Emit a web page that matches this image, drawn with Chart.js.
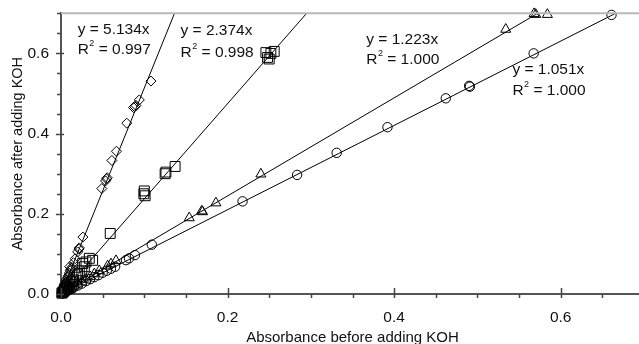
<!DOCTYPE html>
<html>
<head>
<meta charset="utf-8">
<script src="https://cdn.jsdelivr.net/npm/chart.js@4.4.1/dist/chart.umd.min.js"></script>
<style>
  html, body { margin: 0; padding: 0; background: #fff; overflow: hidden; }
  #wrap { width: 639px; height: 344px; overflow: hidden; }
</style>
</head>
<body>
<div id="wrap"><canvas id="absChart" width="652" height="344"></canvas></div>
<script>
const diamondPts = [
  [0.001, 0.004], [0.002, 0.008], [0.002, 0.012], [0.003, 0.015], [0.004, 0.02], [0.004, 0.024],
  [0.005, 0.026], [0.006, 0.03], [0.006, 0.034], [0.007, 0.036], [0.008, 0.042], [0.009, 0.046],
  [0.010, 0.052], [0.011, 0.058], [0.0104, 0.068], [0.012, 0.061], [0.013, 0.066], [0.015, 0.078],
  [0.017, 0.088], [0.020, 0.105], [0.0215, 0.112], [0.022, 0.115], [0.0263, 0.142],
  [0.049, 0.263], [0.0535, 0.282], [0.0547, 0.287], [0.0555, 0.290],
  [0.0611, 0.333], [0.0666, 0.356], [0.079, 0.426], [0.087, 0.465],
  [0.0885, 0.467], [0.090, 0.470], [0.094, 0.484], [0.108, 0.531]
];
const squarePts = [
  [0.001, 0.002], [0.002, 0.004], [0.003, 0.006], [0.004, 0.010], [0.005, 0.012], [0.007, 0.016],
  [0.008, 0.018], [0.010, 0.024], [0.012, 0.030], [0.014, 0.032], [0.015, 0.035], [0.018, 0.042],
  [0.020, 0.048], [0.022, 0.052], [0.025, 0.058],
  [0.026, 0.076], [0.028, 0.068], [0.030, 0.080], [0.034, 0.089], [0.038, 0.084],
  [0.0591, 0.151], [0.0995, 0.250], [0.100, 0.257], [0.101, 0.245],
  [0.125, 0.300], [0.126, 0.304], [0.137, 0.318],
  [0.246, 0.602], [0.248, 0.590], [0.250, 0.586], [0.252, 0.600], [0.256, 0.605]
];
const trianglePts = [
  [0.001, 0.001], [0.002, 0.003], [0.004, 0.005], [0.005, 0.006], [0.008, 0.010], [0.010, 0.012],
  [0.012, 0.015], [0.016, 0.020], [0.020, 0.025], [0.025, 0.030], [0.030, 0.037], [0.035, 0.043],
  [0.040, 0.050], [0.046, 0.058], [0.056, 0.070], [0.060, 0.075], [0.066, 0.083],
  [0.154, 0.190], [0.169, 0.207], [0.170, 0.205], [0.186, 0.227], [0.240, 0.299],
  [0.534, 0.660], [0.568, 0.699], [0.570, 0.697], [0.584, 0.697]
];
const circlePts = [
  [0.001, 0.001], [0.003, 0.003], [0.006, 0.006], [0.008, 0.008], [0.010, 0.010], [0.013, 0.013],
  [0.015, 0.016], [0.020, 0.021], [0.025, 0.026], [0.030, 0.032], [0.035, 0.037], [0.040, 0.042],
  [0.045, 0.047], [0.050, 0.053], [0.055, 0.058], [0.060, 0.063], [0.065, 0.068], [0.078, 0.0845],
  [0.0817, 0.089], [0.0888, 0.097], [0.109, 0.123],
  [0.218, 0.231], [0.2835, 0.297], [0.331, 0.352], [0.392, 0.416], [0.462, 0.488],
  [0.490, 0.519], [0.491, 0.517], [0.5675, 0.600], [0.661, 0.696]
];

// fitted lines through the origin, end points as drawn
const fitDiamond = [[0, 0], [0.1363, 0.70]];
const fitSquare = [[0, 0], [0.2949, 0.70]];
const fitTriangle = [[0, 0], [0.5724, 0.70]];
const fitCircle = [[0, 0], [0.666, 0.70]];

const eqLabels = ["y = 5.134x", "y = 2.374x", "y = 1.223x", "y = 1.051x"];
const r2Labels = ["0.997", "0.998", "1.000", "1.000"];
// where each equation sits (data units, left edge)
const eqPos = [[0.020, 0.66, 0.61], [0.1435, 0.657, 0.6025], [0.3665, 0.635, 0.585], [0.542, 0.56, 0.508]];

const tickLabels = ["0.0", "0.2", "0.4", "0.6"];

const FONT = "'Liberation Sans', Arial, sans-serif";
const toXY = arr => arr.map(p => ({ x: p[0], y: p[1] }));

function isMajor(v) {
  return tickLabels.indexOf(v.toFixed(1)) >= 0 && Math.abs(v * 5 - Math.round(v * 5)) < 1e-6;
}

const markerSet = (data, style, radius) => ({
  data: toXY(data),
  showLine: false,
  pointStyle: style,
  pointRadius: radius,
  pointHoverRadius: radius,
  pointBorderColor: "#000",
  pointBackgroundColor: "rgba(0,0,0,0)",
  pointBorderWidth: 1,
  clip: false
});
const fitSet = data => ({
  data: toXY(data),
  showLine: true,
  borderColor: "#000",
  borderWidth: 1,
  pointRadius: 0,
  clip: false
});

const frame = {
  id: "frame",
  afterDraw(chart) {
    const { ctx, chartArea, scales } = chart;
    ctx.save();
    // top border
    ctx.strokeStyle = "#b8b8b8";
    ctx.lineWidth = 2;
    ctx.beginPath();
    ctx.moveTo(chartArea.left, chartArea.top);
    ctx.lineTo(chartArea.right + 2, chartArea.top);
    ctx.stroke();

    // tick marks
    ctx.strokeStyle = "#444";
    ctx.lineWidth = 1.5;
    const xs = scales.x, ys = scales.y;
    xs.ticks.forEach(t => {
      const px = Math.round(xs.getPixelForValue(t.value)) + 0.5;
      ctx.beginPath();
      if (isMajor(t.value)) { ctx.moveTo(px, chartArea.bottom - 6); ctx.lineTo(px, chartArea.bottom + 4); }
      else { ctx.moveTo(px, chartArea.bottom); ctx.lineTo(px, chartArea.bottom + 4); }
      ctx.stroke();
    });
    ys.ticks.forEach(t => {
      const py = Math.round(ys.getPixelForValue(t.value)) + 0.5;
      ctx.beginPath();
      if (isMajor(t.value)) { ctx.moveTo(chartArea.left - 5, py); ctx.lineTo(chartArea.left + 3, py); }
      else { ctx.moveTo(chartArea.left - 4, py); ctx.lineTo(chartArea.left, py); }
      ctx.stroke();
    });

    // equation labels
    ctx.fillStyle = "#111";
    ctx.textBaseline = "middle";
    ctx.textAlign = "left";
    eqLabels.forEach((lbl, i) => {
      const x = xs.getPixelForValue(eqPos[i][0]);
      ctx.font = "15.5px " + FONT;
      ctx.fillText(lbl, x, ys.getPixelForValue(eqPos[i][1]));
      const ry = ys.getPixelForValue(eqPos[i][2]);
      ctx.fillText("R", x, ry);
      const rw = ctx.measureText("R").width;
      ctx.font = "9px " + FONT;
      ctx.fillText("2", x + rw + 0.5, ry - 6);
      const sw = ctx.measureText("2").width;
      ctx.font = "15.5px " + FONT;
      ctx.fillText(" = " + r2Labels[i], x + rw + sw + 0.5, ry);
    });
    ctx.restore();
  }
};

const ctx = document.getElementById("absChart").getContext("2d");

new Chart(ctx, {
  type: "scatter",
  data: {
    datasets: [
      markerSet(diamondPts, "rectRot", 5),
      markerSet(squarePts, "rect", 7),
      markerSet(trianglePts, "triangle", 5.8),
      markerSet(circlePts, "circle", 4.7),
      fitSet(fitDiamond),
      fitSet(fitSquare),
      fitSet(fitTriangle),
      fitSet(fitCircle)
    ]
  },
  options: {
    responsive: false,
    devicePixelRatio: 1,
    animation: false,
    layout: { padding: { top: 12, right: 1, left: 0, bottom: 0 } },
    plugins: {
      legend: { display: false },
      tooltip: { enabled: false }
    },
    scales: {
      x: {
        type: "linear",
        min: 0,
        max: 0.7,
        afterFit: s => { s.height = 50; },
        grid: { display: false },
        border: { display: true, color: "#555", width: 2 },
        ticks: {
          stepSize: 0.05,
          autoSkip: false,
          maxRotation: 0,
          padding: 6,
          color: "#111",
          font: { family: FONT, size: 15.5 },
          callback: v => isMajor(v) ? v.toFixed(1) : ""
        },
        title: {
          display: true,
          text: "Absorbance before adding KOH",
          color: "#111",
          font: { family: FONT, size: 15, lineHeight: 1 },
          padding: { top: 0, bottom: -1 }
        }
      },
      y: {
        type: "linear",
        min: 0,
        max: 0.7,
        afterFit: s => { s.width = 61; },
        grid: { display: false },
        border: { display: true, color: "#555", width: 2 },
        ticks: {
          stepSize: 0.05,
          autoSkip: false,
          padding: 4,
          color: "#111",
          font: { family: FONT, size: 15.5 },
          callback: v => isMajor(v) ? v.toFixed(1) : ""
        },
        title: {
          display: true,
          text: "Absorbance after adding KOH",
          color: "#111",
          font: { family: FONT, size: 14.5, lineHeight: 1.2 },
          padding: { top: 9, bottom: 0 }
        }
      }
    }
  },
  plugins: [frame]
});
</script>
</body>
</html>
